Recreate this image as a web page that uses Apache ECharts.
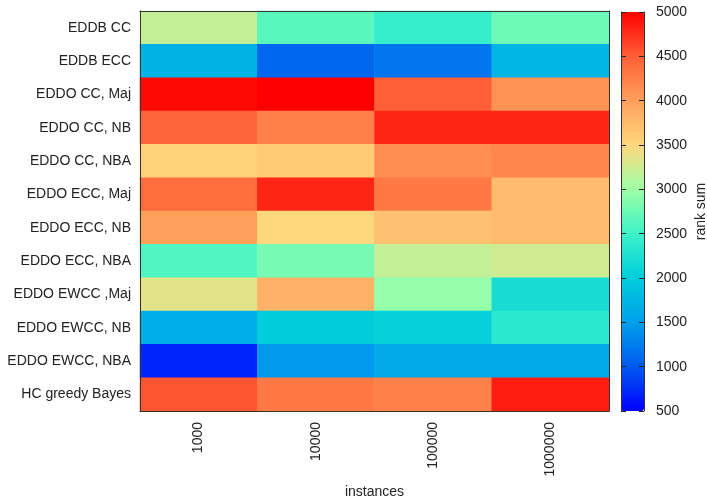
<!DOCTYPE html>
<html>
<head>
<meta charset="utf-8">
<script src="https://cdn.jsdelivr.net/npm/echarts@6/dist/echarts.min.js"></script>
<style>
  html, body { margin: 0; padding: 0; background: #fff; }
  #chart { width: 707px; height: 497px; }
</style>
</head>
<body>
<div id="chart"></div>
<script>
// columns (x) and rows (y, top to bottom)
const instances = ['1000', '10000', '100000', '1000000'];
const methods = ['EDDB CC', 'EDDB ECC', 'EDDO CC, Maj', 'EDDO CC, NB', 'EDDO CC, NBA',
  'EDDO ECC, Maj', 'EDDO ECC, NB', 'EDDO ECC, NBA', 'EDDO EWCC ,Maj', 'EDDO EWCC, NB',
  'EDDO EWCC, NBA', 'HC greedy Bayes'];

// rank sum per method, one value per instance count
const rank1000    = [3200, 1700, 4950, 4450, 3550, 4400, 4000, 2600, 3350, 1650,  700, 4550];
const rank10000   = [2650, 1100, 5000, 4250, 3600, 4800, 3500, 2800, 3850, 2000, 1450, 4300];
const rank100000  = [2450, 1200, 4500, 4800, 4150, 4300, 3700, 3200, 2950, 2050, 1600, 4250];
const rank1000000 = [2750, 1750, 4100, 4800, 4200, 3750, 3750, 3250, 2200, 2350, 1600, 4850];

const colorTicks = [500, 1000, 1500, 2000, 2500, 3000, 3500, 4000, 4500, 5000];
const palette = ['#0000ff', '#005af0', '#00a0eb', '#00cddc', '#3cf2c8',
  '#9effa6', '#ffd77d', '#ffa05a', '#ff5f37', '#ff0000'];

const cols = [rank1000, rank10000, rank100000, rank1000000];
const data = [];
cols.forEach((col, x) => col.forEach((v, y) => data.push([x, y, v])));

const font = 'Liberation Sans, Arial, sans-serif';
const txt = { fontFamily: font, fontSize: 14, color: '#222' };

// colour bar scale: ticks on both edges, pointing inwards
function barAxis(pos, extra) {
  return Object.assign({
    type: 'value', gridIndex: 1, position: pos, zlevel: 1,
    min: colorTicks[0], max: colorTicks[colorTicks.length - 1], interval: 500,
    axisLine: { show: true, onZero: false, lineStyle: { color: '#333' } },
    axisTick: { show: true, inside: true, length: 5, lineStyle: { color: '#222' } },
    axisLabel: { show: false },
    splitLine: { show: false }
  }, extra);
}

const chart = echarts.init(document.getElementById('chart'));
chart.setOption({
  animation: false,
  grid: [
    { left: 140, top: 11, width: 469, height: 400, outerBoundsMode: 'none', containLabel: false },
    { left: 621, top: 12, width: 23, height: 399, outerBoundsMode: 'none', containLabel: false }
  ],
  xAxis: [
    {
      type: 'category', gridIndex: 0, data: instances, z: 10,
      name: 'instances', nameLocation: 'middle', nameGap: 74, nameTextStyle: txt,
      axisLine: { lineStyle: { color: '#333' } },
      axisTick: { show: false },
      axisLabel: Object.assign({ rotate: 90, margin: 11 }, txt),
      splitLine: { show: false }
    },
    {
      type: 'category', gridIndex: 0, data: instances, position: 'top', z: 10,
      axisLine: { lineStyle: { color: '#333' } },
      axisTick: { show: false }, axisLabel: { show: false }
    },
    { type: 'value', gridIndex: 1, show: false }
  ],
  yAxis: [
    {
      type: 'category', gridIndex: 0, data: methods, inverse: true, z: 10,
      axisLine: { lineStyle: { color: '#333' } },
      axisTick: { show: false },
      axisLabel: Object.assign({ margin: 9 }, txt)
    },
    {
      type: 'category', gridIndex: 0, data: methods, inverse: true, position: 'right', z: 10,
      axisLine: { lineStyle: { color: '#333' } },
      axisTick: { show: false }, axisLabel: { show: false }
    },
    barAxis('right', {
      name: 'rank sum', nameLocation: 'middle', nameGap: 50, nameRotate: 90, nameTextStyle: txt,
      axisLabel: Object.assign({ show: true, margin: 12, formatter: v => String(v) }, txt)
    }),
    barAxis('left', {})
  ],
  visualMap: {
    type: 'continuous', min: 500, max: 5000, seriesIndex: 0,
    left: 621, top: 12, padding: 0, itemWidth: 23, itemHeight: 399,
    calculable: false, hoverLink: false, text: null,
    inRange: { color: palette }
  },
  series: [{
    type: 'heatmap', xAxisIndex: 0, yAxisIndex: 0, data: data,
    itemStyle: { borderWidth: 0 },
    emphasis: { disabled: true }
  }]
});
</script>
</body>
</html>
